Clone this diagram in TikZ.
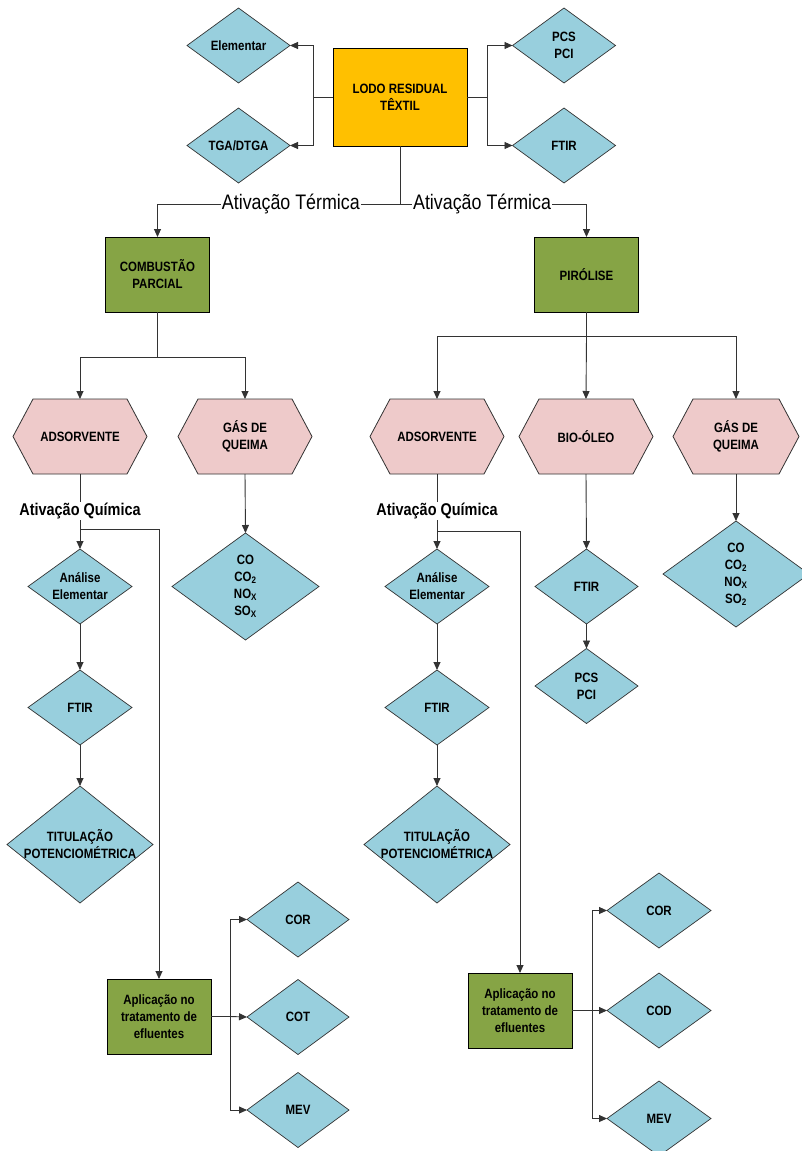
\documentclass[tikz,border=0pt]{standalone}
\usepackage{fontspec}
\setmainfont{Liberation Sans}[FakeStretch=0.85]
\usetikzlibrary{shapes.geometric,arrows.meta,backgrounds}
\definecolor{cblue}{HTML}{98CFDD}
\definecolor{cpink}{HTML}{EECACA}
\definecolor{cgreen}{HTML}{86A445}
\definecolor{cyell}{HTML}{FFC000}
\definecolor{cline}{HTML}{333333}
\begin{document}
\begin{tikzpicture}[x=1pt,y=-1pt,
  font=\fontsize{13.5}{17}\selectfont\bfseries,
  box/.style={draw=black, line width=0.9pt, minimum width=104, minimum height=75, inner sep=2pt, align=center, outer sep=0pt},
  ybox/.style={box, fill=cyell, minimum width=134, minimum height=98},
  gbox/.style={box, fill=cgreen},
  dia/.style={diamond, draw=cline, line width=0.7pt, fill=cblue, inner sep=0pt, outer sep=0pt},
  hexa/.style={minimum width=134, minimum height=75, inner sep=0pt, outer sep=0pt, align=center},
  lbl/.style={align=center, inner sep=0pt},
  conn/.style={draw=cline, line width=0.9pt},
  arr/.style={conn, -{Triangle[length=8pt,width=7pt]}},
  termica/.style={font=\fontsize{21}{24}\selectfont\mdseries, fill=white, inner sep=1pt},
  quimica/.style={font=\fontsize{17}{20}\selectfont\bfseries, fill=white, inner sep=1pt},
]
\useasboundingbox (0,0) rectangle (802,1151);

% top
\node[ybox] (lodo) at (400,97) {LODO RESIDUAL\\TÊXTIL};
\node[dia, minimum width=103, minimum height=75, label={[lbl]center:Elementar}] (elem) at (238.5,45.5) {};
\node[dia, minimum width=103, minimum height=75, label={[lbl]center:TGA/DTGA}] (tga) at (238.5,145.5) {};
\node[dia, minimum width=103, minimum height=75, label={[lbl]center:{PCS\\PCI}}] (pcs) at (564,45.5) {};
\node[dia, minimum width=103, minimum height=75, label={[lbl]center:FTIR}] (ftir0) at (564,145.5) {};

% second level
\node[gbox] (comb) at (157.5,274.5) {COMBUSTÃO\\PARCIAL};
\node[gbox] (pir) at (586.5,274.5) {PIRÓLISE};

% hexagons
\node[hexa] (ads1) at (80,436.5) {ADSORVENTE};
\node[hexa] (gas1) at (245,436.5) {GÁS DE\\QUEIMA};
\node[hexa] (ads2) at (437,436.5) {ADSORVENTE};
\node[hexa] (bio) at (586,436.5) {BIO-ÓLEO};
\node[hexa, minimum width=126] (gas2) at (736,436.5) {GÁS DE\\QUEIMA};

% left column
\node[dia, minimum width=104, minimum height=75, label={[lbl]center:{Análise\\Elementar}}] (ane1) at (80,586.5) {};
\node[dia, minimum width=104, minimum height=75, label={[lbl]center:FTIR}] (ftir1) at (80,707.5) {};
\node[dia, minimum width=146, minimum height=117, label={[lbl]center:{TITULAÇÃO\\POTENCIOMÉTRICA}}] (tit1) at (80,844.5) {};
\node[dia, minimum width=147, minimum height=107, label={[lbl]center:{CO\\CO\textsubscript{2}\\NO\textsubscript{X}\\SO\textsubscript{X}}}] (co1) at (245.5,586.5) {};
\node[gbox] (apl1) at (159,1016.5) {Aplicação no\\tratamento de\\efluentes};
\node[dia, minimum width=102, minimum height=75, label={[lbl]center:COR}] (cor1) at (298,919.5) {};
\node[dia, minimum width=102, minimum height=75, label={[lbl]center:COT}] (cot1) at (298,1017) {};
\node[dia, minimum width=102, minimum height=75, label={[lbl]center:MEV}] (mev1) at (298,1110) {};

% right column
\node[dia, minimum width=104, minimum height=75, label={[lbl]center:{Análise\\Elementar}}] (ane2) at (437,586.5) {};
\node[dia, minimum width=104, minimum height=75, label={[lbl]center:FTIR}] (ftir2) at (437,707.5) {};
\node[dia, minimum width=146, minimum height=117, label={[lbl]center:{TITULAÇÃO\\POTENCIOMÉTRICA}}] (tit2) at (437,844.5) {};
\node[dia, minimum width=103, minimum height=75, label={[lbl]center:FTIR}] (ftir3) at (586.5,586.5) {};
\node[dia, minimum width=103, minimum height=75, label={[lbl]center:{PCS\\PCI}}] (pcs3) at (586.5,686) {};
\node[dia, minimum width=146, minimum height=106, label={[lbl]center:{CO\\CO\textsubscript{2}\\NO\textsubscript{X}\\SO\textsubscript{2}}}] (co2) at (736,574) {};
\node[gbox] (apl2) at (520,1010.5) {Aplicação no\\tratamento de\\efluentes};
\node[dia, minimum width=104, minimum height=75, label={[lbl]center:COR}] (cor2) at (659,910.5) {};
\node[dia, minimum width=104, minimum height=75, label={[lbl]center:COD}] (cod2) at (659,1010.5) {};
\node[dia, minimum width=104, minimum height=75, label={[lbl]center:MEV}] (mev2) at (659,1118.5) {};

\begin{scope}[on background layer]
\foreach \n in {ads1,gas1,ads2,bio,gas2}
  \filldraw[fill=cpink, draw=cline, line width=0.8pt]
    (\n.west) -- ([xshift=20pt]\n.north west) -- ([xshift=-20pt]\n.north east)
    -- (\n.east) -- ([xshift=-20pt]\n.south east) -- ([xshift=20pt]\n.south west) -- cycle;
\end{scope}

% top connectors
\draw[arr] (lodo.west) -- ++(-20,0) |- (elem.east);
\draw[arr] (lodo.west) -- ++(-20,0) |- (tga.east);
\draw[arr] (lodo.east) -- ++(20,0) |- (pcs.west);
\draw[arr] (lodo.east) -- ++(20,0) |- (ftir0.west);
\draw[conn] (lodo.south) -- ++(0,58) coordinate (tj);
\draw[arr] (tj) -| node[pos=0.225, termica] {Ativação Térmica} (comb.north);
\draw[arr] (tj) -| node[pos=0.22, termica] {Ativação Térmica} (pir.north);

% combustion branch
\draw[conn] (comb.south) -- ++(0,45) coordinate (cj);
\draw[arr] (cj) -| (ads1.north);
\draw[arr] (cj) -| (gas1.north);
% pyrolysis branch
\draw[conn] (pir.south) -- ++(0,24) coordinate (pj);
\draw[arr] (pj) -| (ads2.north);
\draw[arr] (pj) -- (bio.north);
\draw[arr] (pj) -| (gas2.north);

% left adsorbent
\draw[conn] (ads1.south) -- node[pos=0.67, quimica] {Ativação Química} ++(0,55) coordinate (aj1);
\draw[arr] (aj1) -- (ane1.north);
\draw[arr] (aj1) -| (apl1.north);
\draw[arr] (ane1.south) -- (ftir1.north);
\draw[arr] (ftir1.south) -- (tit1.north);
\draw[arr] (gas1.south) -- (co1.north);
\draw[conn, line width=1.6pt] (apl1.east) -- ++(19,0) coordinate (bj1);
\draw[arr] (bj1) |- (cor1.west);
\draw[arr] (bj1) -- (cot1.west);
\draw[arr] (bj1) |- (mev1.west);

% right adsorbent
\draw[conn] (ads2.south) -- node[pos=0.65, quimica] {Ativação Química} ++(0,57) coordinate (aj2);
\draw[arr] (aj2) -- (ane2.north);
\draw[arr] (aj2) -| (apl2.north);
\draw[arr] (ane2.south) -- (ftir2.north);
\draw[arr] (ftir2.south) -- (tit2.north);
\draw[arr] (bio.south) -- (ftir3.north);
\draw[arr] (ftir3.south) -- (pcs3.north);
\draw[arr] (gas2.south) -- (co2.north);
\draw[conn, line width=1.6pt] (apl2.east) -- ++(20,0) coordinate (bj2);
\draw[arr] (bj2) |- (cor2.west);
\draw[arr] (bj2) -- (cod2.west);
\draw[arr] (bj2) |- (mev2.west);
\end{tikzpicture}
\end{document}
